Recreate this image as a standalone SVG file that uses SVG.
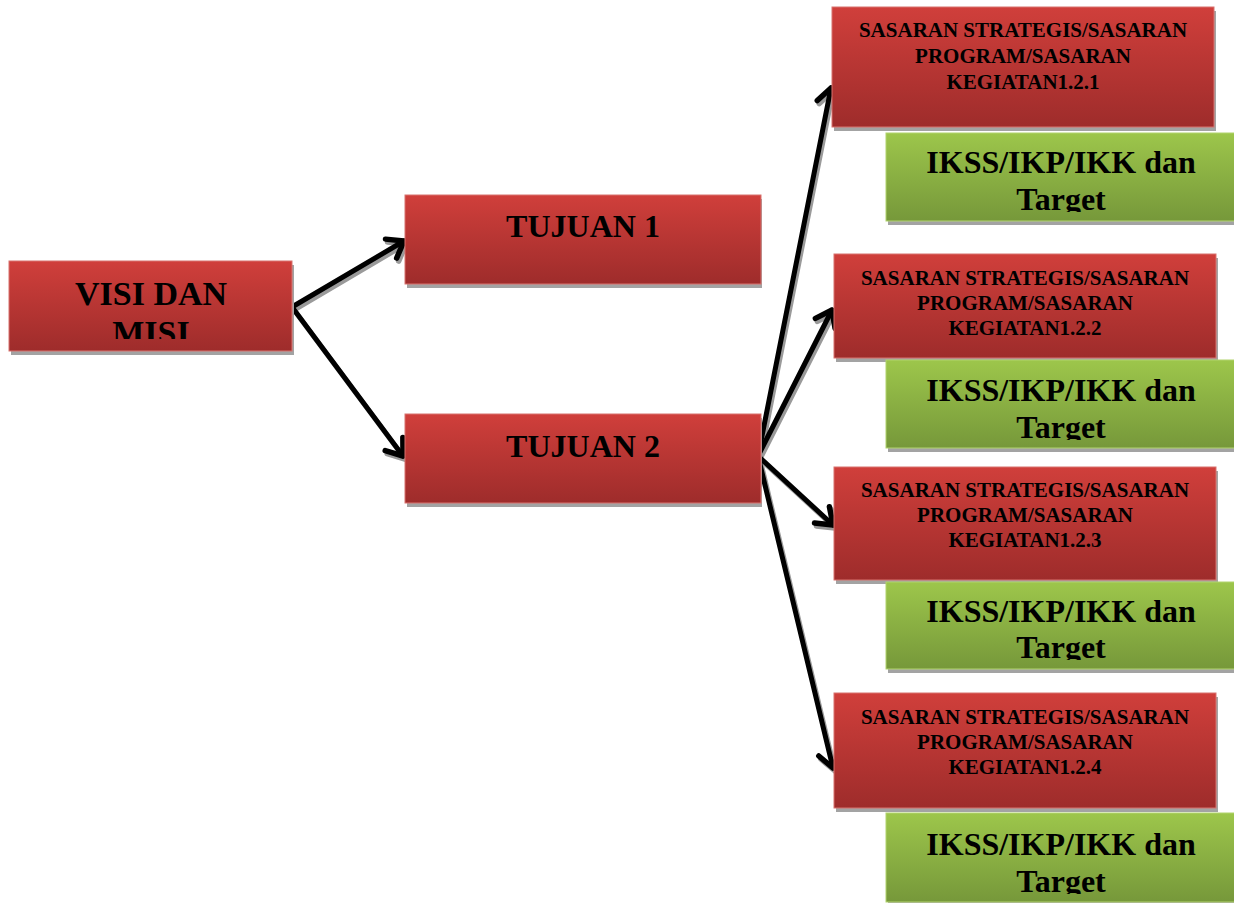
<svg xmlns="http://www.w3.org/2000/svg" width="1234" height="903" viewBox="0 0 1234 903">
  <defs>
    <linearGradient id="gRed" x1="0" y1="0" x2="0" y2="1">
      <stop offset="0" stop-color="#D03F3B"/>
      <stop offset="1" stop-color="#9E2C2B"/>
    </linearGradient>
    <linearGradient id="gGreen" x1="0" y1="0" x2="0" y2="1">
      <stop offset="0" stop-color="#9DC64B"/>
      <stop offset="1" stop-color="#76983A"/>
    </linearGradient>
    <marker id="arr" markerUnits="userSpaceOnUse" markerWidth="34" markerHeight="34" viewBox="-22 -17 34 34" refX="0" refY="0" orient="auto">
      <path d="M -15 -11 L 0 0 L -15 11" fill="none" stroke="#000" stroke-width="5.5" stroke-linecap="round" stroke-linejoin="round"/>
    </marker>
    <marker id="arrS" markerUnits="userSpaceOnUse" markerWidth="34" markerHeight="34" viewBox="-22 -17 34 34" refX="0" refY="0" orient="auto">
      <path d="M -15 -11 L 0 0 L -15 11" fill="none" stroke="#9A9A9A" stroke-width="5.5" stroke-linecap="round" stroke-linejoin="round"/>
    </marker>
    <clipPath id="cVisi"><rect x="9" y="261" width="284" height="78"/></clipPath>
    <clipPath id="cG1"><rect x="886" y="133" width="350" height="79"/></clipPath>
    <clipPath id="cG2"><rect x="886" y="360" width="350" height="80"/></clipPath>
    <clipPath id="cG3"><rect x="886" y="582" width="350" height="78"/></clipPath>
    <clipPath id="cG4"><rect x="886" y="813" width="350" height="81"/></clipPath>
  </defs>
  <style>
    .red { fill: url(#gRed); stroke: #D8736F; stroke-width: 1; }
    .green { fill: url(#gGreen); stroke: #B2D46E; stroke-width: 1; }
    .shd { fill: #A3A3A3; }
    text { font-family: "Liberation Serif", "Times New Roman", serif; font-weight: bold; fill: #000; text-anchor: middle; }
    .big { font-size: 34px; }
    .tj { font-size: 32px; }
    .ss { font-size: 21px; }
    .ik { font-size: 32px; }
    .con { fill: none; stroke: #000; stroke-width: 5; stroke-linecap: round; marker-end: url(#arr); }
    .conS { fill: none; stroke: #9A9A9A; stroke-width: 5; stroke-linecap: round; marker-end: url(#arrS); }
  </style>
  <rect width="1234" height="903" fill="#FFFFFF"/>

  <g id="connectors">
    <g transform="translate(2,3)">
      <line class="conS" x1="292" y1="307" x2="404" y2="241"/>
      <line class="conS" x1="292" y1="307" x2="403" y2="456"/>
      <line class="conS" x1="758" y1="456" x2="831" y2="88"/>
      <line class="conS" x1="758" y1="456" x2="832" y2="310"/>
      <line class="conS" x1="758" y1="456" x2="833" y2="525"/>
      <line class="conS" x1="758" y1="456" x2="833" y2="768"/>
    </g>
    <line class="con" x1="292" y1="307" x2="404" y2="241"/>
    <line class="con" x1="292" y1="307" x2="403" y2="456"/>
    <line class="con" x1="758" y1="456" x2="831" y2="88"/>
    <line class="con" x1="758" y1="456" x2="832" y2="310"/>
    <line class="con" x1="758" y1="456" x2="833" y2="525"/>
    <line class="con" x1="758" y1="456" x2="833" y2="768"/>
  </g>

  <g id="visi">
    <rect class="shd" x="11" y="265" width="283" height="90"/>
    <rect class="red" x="9" y="261" width="283" height="90"/>
    <g clip-path="url(#cVisi)">
      <text class="big" x="151" y="305">VISI DAN</text>
      <text class="big" x="151" y="344">MISI</text>
    </g>
  </g>

  <g id="tujuan1">
    <rect class="shd" x="407" y="199" width="355" height="89"/>
    <rect class="red" x="405" y="195" width="356" height="89"/>
    <text class="tj" x="583" y="237">TUJUAN 1</text>
  </g>

  <g id="tujuan2">
    <rect class="shd" x="407" y="418" width="355" height="89"/>
    <rect class="red" x="405" y="414" width="356" height="89"/>
    <text class="tj" x="583" y="457">TUJUAN 2</text>
  </g>

  <g id="sasaran1">
    <rect class="shd" x="834" y="11" width="382" height="120"/>
    <rect class="red" x="832" y="7" width="382" height="120"/>
    <text class="ss" x="1023" y="37">SASARAN STRATEGIS/SASARAN</text>
    <text class="ss" x="1023" y="63">PROGRAM/SASARAN</text>
    <text class="ss" x="1023" y="89">KEGIATAN1.2.1</text>
  </g>
  <g id="ikss1">
    <rect class="shd" x="888" y="137" width="350" height="88"/>
    <rect class="green" x="886" y="133" width="350" height="88"/>
    <g clip-path="url(#cG1)">
      <text class="ik" x="1061" y="173">IKSS/IKP/IKK dan</text>
      <text class="ik" x="1061" y="210">Target</text>
    </g>
  </g>

  <g id="sasaran2">
    <rect class="shd" x="836" y="258" width="382" height="104"/>
    <rect class="red" x="834" y="254" width="382" height="104"/>
    <text class="ss" x="1025" y="285">SASARAN STRATEGIS/SASARAN</text>
    <text class="ss" x="1025" y="310">PROGRAM/SASARAN</text>
    <text class="ss" x="1025" y="335">KEGIATAN1.2.2</text>
  </g>
  <g id="ikss2">
    <rect class="shd" x="888" y="364" width="350" height="88"/>
    <rect class="green" x="886" y="360" width="350" height="88"/>
    <g clip-path="url(#cG2)">
      <text class="ik" x="1061" y="401">IKSS/IKP/IKK dan</text>
      <text class="ik" x="1061" y="438">Target</text>
    </g>
  </g>

  <g id="sasaran3">
    <rect class="shd" x="836" y="471" width="382" height="113"/>
    <rect class="red" x="834" y="467" width="382" height="113"/>
    <text class="ss" x="1025" y="497">SASARAN STRATEGIS/SASARAN</text>
    <text class="ss" x="1025" y="522">PROGRAM/SASARAN</text>
    <text class="ss" x="1025" y="547">KEGIATAN1.2.3</text>
  </g>
  <g id="ikss3">
    <rect class="shd" x="888" y="586" width="350" height="87"/>
    <rect class="green" x="886" y="582" width="350" height="87"/>
    <g clip-path="url(#cG3)">
      <text class="ik" x="1061" y="622">IKSS/IKP/IKK dan</text>
      <text class="ik" x="1061" y="658">Target</text>
    </g>
  </g>

  <g id="sasaran4">
    <rect class="shd" x="836" y="697" width="382" height="115"/>
    <rect class="red" x="834" y="693" width="382" height="115"/>
    <text class="ss" x="1025" y="724">SASARAN STRATEGIS/SASARAN</text>
    <text class="ss" x="1025" y="749">PROGRAM/SASARAN</text>
    <text class="ss" x="1025" y="774">KEGIATAN1.2.4</text>
  </g>
  <g id="ikss4">
    <rect class="shd" x="888" y="817" width="350" height="89"/>
    <rect class="green" x="886" y="813" width="350" height="89"/>
    <g clip-path="url(#cG4)">
      <text class="ik" x="1061" y="855">IKSS/IKP/IKK dan</text>
      <text class="ik" x="1061" y="892">Target</text>
    </g>
  </g>
</svg>
